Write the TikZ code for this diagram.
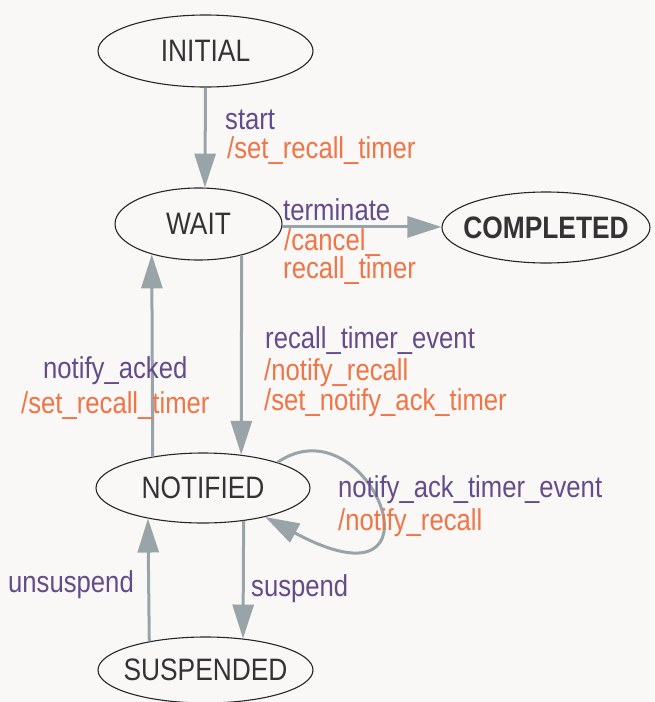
\documentclass[tikz,border=0pt]{standalone}
\usepackage{fontspec}
\setmainfont{Liberation Sans}[FakeStretch=0.85]
\usetikzlibrary{shapes.geometric,arrows.meta}

\definecolor{bgc}{RGB}{249,248,247}
\definecolor{statetxt}{RGB}{51,51,51}
\definecolor{evt}{RGB}{99,76,138}
\definecolor{act}{RGB}{240,117,70}
\definecolor{edgec}{RGB}{152,164,168}

\tikzset{
  state/.style={ellipse, draw=black!85, line width=1.1pt, inner ysep=0pt,
    inner xsep=-12pt, text=statetxt, font=\fontsize{31}{33}\selectfont},
  trans/.style={draw=edgec, line width=3pt,
    -{Triangle[length=34pt,width=21pt]}},
  evtlbl/.style={anchor=base west, inner sep=0pt, text=evt,
    font=\fontsize{30.2}{31}\selectfont},
  actlbl/.style={evtlbl, text=act},
}

\begin{document}
\begin{tikzpicture}[x=1pt,y=-1pt]
  \fill[bgc] (0,0) rectangle (654,702);
  \useasboundingbox (0,0) rectangle (654,702);

  % states
  \node[state, minimum width=215pt, minimum height=72pt] (initial)   at (205.5,51)  {INITIAL};
  \node[state, minimum width=167pt, minimum height=72pt] (wait)      at (198.5,224) {WAIT};
  \node[state, minimum width=208pt, minimum height=71pt, font=\fontsize{31}{33}\selectfont\bfseries] (completed) at (546,227.5) {COMPLETED};
  \node[state, minimum width=214pt, minimum height=70pt] (notified)  at (203,488)   {NOTIFIED};
  \node[state, minimum width=215pt, minimum height=66pt] (suspended) at (205.5,670) {SUSPENDED};

  % transitions
  \draw[trans] (initial.south) -- (wait.80);
  \draw[trans] (wait.-2) -- (wait.-2 -| completed.west);
  \draw[trans] (wait.-36.9) -- (notified.41.6);
  \draw[trans] (notified.148.3) -- (wait.213.6);
  \draw[trans] (notified.-39.9) -- (suspended.40.3);
  \draw[trans] (suspended.153.6) -- (notified.209.2);
  \draw[trans] (notified.19) .. controls +(92,-63) and +(190,102) .. (notified.-25);

  % transition labels
  \node[evtlbl] (l1a) at (225,129) {start};
  \node[actlbl] (l1b) at (227,158) {/set\_recall\_timer};

  \node[evtlbl] (l2a) at (283,220) {terminate};
  \node[actlbl] (l2b) at (284,250) {/cancel\_};
  \node[actlbl] (l2c) at (283,278) {recall\_timer};

  \node[evtlbl] (l3a) at (265,348) {recall\_timer\_event};
  \node[actlbl] (l3b) at (264,380) {/notify\_recall};
  \node[actlbl] (l3c) at (264,410) {/set\_notify\_ack\_timer};

  \node[evtlbl] (l4a) at (43,378) {notify\_acked};
  \node[actlbl] (l4b) at (21,413) {/set\_recall\_timer};

  \node[evtlbl] (l5a) at (338,497) {notify\_ack\_timer\_event};
  \node[actlbl] (l5b) at (338,530) {/notify\_recall};

  \node[evtlbl] (l6) at (8,592) {unsuspend};
  \node[evtlbl] (l7) at (251,596) {suspend};
\end{tikzpicture}
\end{document}
